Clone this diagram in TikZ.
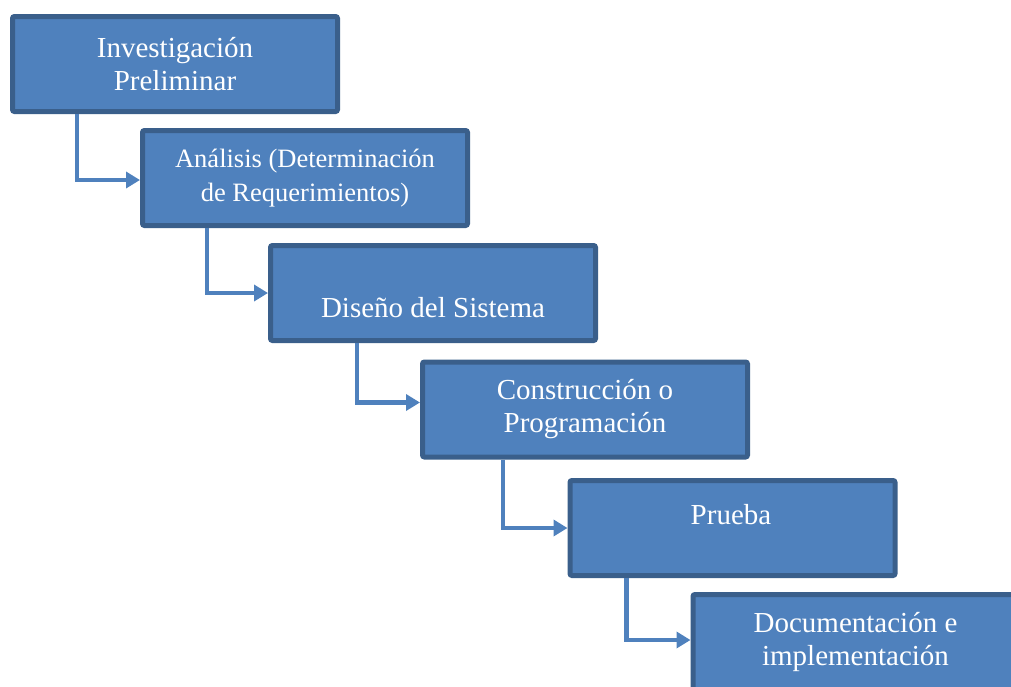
\documentclass[tikz,border=0pt]{standalone}
\usepackage{fontspec}
\setmainfont{Liberation Serif}
\usetikzlibrary{arrows.meta}
\definecolor{boxfill}{HTML}{4F81BD}
\definecolor{boxline}{HTML}{3A5F8B}
\begin{document}
\begin{tikzpicture}[x=1pt,y=-1pt,
  box/.style={draw=boxline, fill=boxfill, line width=5pt, rounded corners=2pt,
    minimum width=325pt, minimum height=95pt, inner sep=0pt, text=white,
    font=\fontsize{29}{33}\selectfont, align=center},
  txt/.style={text=white, inner sep=0pt, font=\fontsize{29}{33}\selectfont, align=center},
  conn/.style={draw=boxfill, line width=4.5pt, -{Triangle[length=14pt,width=16pt]}}]
\useasboundingbox (0,0) rectangle (1011,686);
\clip (0,0) rectangle (1011,686);
\node[box] (b1) at (175,64) {Investigación\\Preliminar};
\node[box, font=\fontsize{26.5}{34}\selectfont] (b2) at (305,178) {Análisis (Determinación\\de Requerimientos)};
\node[box] (b3) at (433,293) {};
\node[txt] (t3) at (433,308) {Diseño del Sistema};
\node[box] (b4) at (585,409.5) {Construcción o\\Programación};
\node[box] (b5) at (732.5,528) {};
\node[txt] (t5) at (731,515) {Prueba};
\node[box] (b6) at (855.5,642) {Documentación e\\implementación};
\draw[conn] ([xshift=67pt]b1.south west) |- ([yshift=-2pt]b2.west);
\draw[conn] ([xshift=67pt]b2.south west) |- (b3.west);
\draw[conn] ([xshift=89pt]b3.south west) |- ([yshift=7pt]b4.west);
\draw[conn] ([xshift=83pt]b4.south west) |- (b5.west);
\draw[conn] ([xshift=59pt]b5.south west) |- ([yshift=2pt]b6.west);
\end{tikzpicture}
\end{document}
